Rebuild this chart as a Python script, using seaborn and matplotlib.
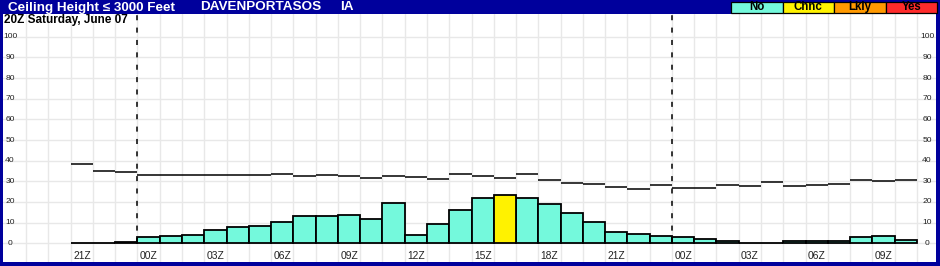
import numpy as np
import seaborn as sns
import matplotlib.pyplot as plt
from matplotlib.patches import Rectangle
from matplotlib.transforms import blended_transform_factory

# hourly columns, 21Z Saturday through 10Z Monday
hours = ["21Z", "22Z", "23Z"] + [f"{h:02d}Z" for h in range(24)] + [f"{h:02d}Z" for h in range(11)]

# probability bars (percent)
bar_vals = [0, 0, 0.5, 2.9, 3.4, 3.9, 6.3, 7.7, 8.2, 10.2, 13.1, 13.1, 13.5, 11.6, 19.5,
            3.9, 9.2, 16.0, 21.8, 23.2, 21.8, 18.9, 14.7, 10.3, 5.3, 4.4, 3.4,
            2.9, 1.9, 1.0, 0, 0, 1.0, 1.0, 1.0, 2.9, 3.4, 1.6]

# thin step line
line_vals = [38.3, 34.9, 34.4, 33.1, 33.1, 33.1, 33.1, 33.1, 33.1, 33.4, 32.6, 33.1, 32.6,
             31.5, 32.4, 32.0, 31.0, 33.6, 32.6, 31.5, 33.6, 30.5, 29.2, 28.7, 27.1, 26.1,
             28.2, 26.6, 26.6, 28.2, 27.6, 29.5, 27.6, 28.1, 28.7, 30.7, 30.0, 30.7]

legend_labels = ["No", "Chnc", "Lkly", "Yes"]
legend_colors = ["#74F9DC", "#FFF200", "#FF9900", "#FF2B2B"]
day_breaks = ["00Z"]
y_ticks = list(range(0, 101, 10))

cat = ["Chnc" if v >= 23 else "No" for v in bar_vals]
idx = np.arange(len(hours))

sns.set_style("white")
plt.rcParams['font.family'] = ['Liberation Sans', 'DejaVu Sans']

W, H = 940, 266
fig = plt.figure(figsize=(W / 100, H / 100), dpi=100)
fig.patch.set_facecolor("#00009C")

# axes area in pixels
x0, x1, y_top, y_bot = 3, 936, 14, 262
ax = fig.add_axes([x0 / W, 1 - y_bot / H, (x1 - x0) / W, (y_bot - y_top) / H])
ax.set_facecolor("white")

sns.barplot(x=idx, y=bar_vals, hue=cat, palette=dict(zip(legend_labels, legend_colors)),
            dodge=False, width=1, saturation=1, edgecolor="black", linewidth=1.3,
            errorbar=None, legend=False, ax=ax, zorder=3)

ax.hlines(line_vals, idx - 0.5, idx + 0.5, color="black", lw=1.1, zorder=4)

ax.set_xlim(-3.54, 38.36)
ax.set_ylim(-9.06, 111)

# grid
for gx in np.arange(-2.5, 38, 1):
    ax.axvline(gx, color="#E8E8E8", lw=1, zorder=0)
for gy in y_ticks:
    ax.axhline(gy, color="#E8E8E8", lw=1, zorder=0)

# day separators
for i, h in enumerate(hours):
    if h in day_breaks and i > 0:
        ax.vlines(i - 0.5, 0, 111, color="black", lw=1.1, linestyles=(0, (3.3, 4.8)), zorder=5)

ax.set_xticks([])
ax.set_yticks([])
ax.set_xlabel("")
ax.set_ylabel("")
for s in ax.spines.values():
    s.set_visible(False)

# x labels every 3 hours
for i in range(0, len(hours), 3):
    ax.text(i, -7.75, hours[i], ha="center", va="baseline", fontsize=7.4, color="#222222")

# y labels inside on both sides
tr = blended_transform_factory(ax.transAxes, ax.transData)
for v in y_ticks:
    ax.text(7 / (x1 - x0), v, str(v), transform=tr, ha="center", va="center",
            fontsize=6.1, color="#222222")
    ax.text((927 - x0) / (x1 - x0), v, str(v), transform=tr, ha="center", va="center",
            fontsize=6.1, color="#222222")

# title bar
ty = 1 - 7.5 / H
fig.text(8 / W, ty, "Ceiling Height \u2264 3000 Feet", color="white", fontsize=9.7,
         fontweight="bold", ha="left", va="center")
fig.text(200 / W, ty, "DAVENPORTASOS", color="white", fontsize=9.7,
         fontweight="bold", ha="left", va="center")
fig.text(340 / W, ty, "IA", color="white", fontsize=9.7,
         fontweight="bold", ha="left", va="center")

fig.text(4 / W, 1 - 20.5 / H, "20Z Saturday, June 07", color="black", fontsize=8.5,
         fontweight="bold", ha="left", va="center")

# legend boxes
bx, bw, by0, by1 = 731, 51.5, 1.5, 13.3
for k, (lab, col) in enumerate(zip(legend_labels, legend_colors)):
    left = bx + k * bw
    fig.patches.append(Rectangle((left / W, 1 - by1 / H), bw / W, (by1 - by0) / H,
                                 transform=fig.transFigure, facecolor=col,
                                 edgecolor="black", lw=0.9))
    fig.text((left + bw / 2) / W, 1 - (by0 + by1) / 2 / H, lab, color="black",
             fontsize=8.3, fontweight="bold", ha="center", va="center")

fig.savefig("out.png", dpi=100, facecolor=fig.get_facecolor())
